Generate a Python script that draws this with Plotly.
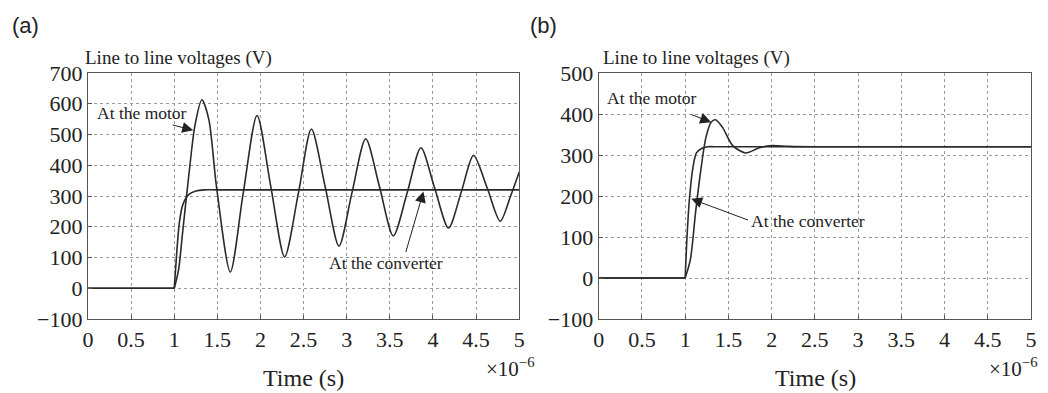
import plotly.graph_objects as go
from plotly.subplots import make_subplots

# ---- data (time in units of 1e-6 s, voltage in V) ----
a_motor_t = [0, 1.0, 1.05, 1.10, 1.17, 1.24, 1.32, 1.40, 1.49, 1.65, 1.80, 1.96, 2.12, 2.28, 2.44,
             2.59, 2.75, 2.91, 3.06, 3.22, 3.38, 3.54, 3.70, 3.86, 4.02, 4.18, 4.33, 4.47,
             4.63, 4.78, 4.90, 5.0]
a_motor_v = [0, 0, 60, 190, 370, 530, 613, 550, 330, 53, 310, 562, 330, 102, 310,
             518, 330, 137, 310, 486, 330, 170, 310, 457, 325, 196, 315, 432,
             325, 218, 300, 378]
a_conv_t = [0, 1.0, 1.03, 1.06, 1.10, 1.17, 1.25, 1.35, 1.5, 5.0]
a_conv_v = [0, 0, 120, 215, 272, 305, 316, 320, 320, 320]

b_motor_t = [0, 1.0, 1.06, 1.12, 1.18, 1.24, 1.30, 1.35, 1.43, 1.55, 1.70, 1.85, 2.0, 2.2, 2.5, 5.0]
b_motor_v = [0, 0, 45, 160, 262, 343, 380, 386, 368, 323, 305, 317, 323, 321, 320, 320]
b_conv_t = [0, 1.0, 1.02, 1.05, 1.09, 1.13, 1.19, 1.26, 1.4, 5.0]
b_conv_v = [0, 0, 95, 195, 270, 305, 316, 320, 320, 320]

x_ticks = [0, 0.5, 1, 1.5, 2, 2.5, 3, 3.5, 4, 4.5, 5]
x_tick_text = ["0", "0.5", "1", "1.5", "2", "2.5", "3", "3.5", "4", "4.5", "5"]
a_y_ticks = [-100, 0, 100, 200, 300, 400, 500, 600, 700]
b_y_ticks = [-100, 0, 100, 200, 300, 400, 500]

SERIF = "Liberation Serif, Times New Roman, serif"
LINE = "#2a2a2a"

fig = make_subplots(rows=1, cols=2, horizontal_spacing=0.0842)

def add(t, v, col):
    # flat part before the switching instant (straight), then the transient (smoothed)
    fig.add_trace(go.Scatter(x=t[:2], y=v[:2], mode="lines",
                             line=dict(color=LINE, width=1.6),
                             showlegend=False, hoverinfo="skip"), row=1, col=col)
    fig.add_trace(go.Scatter(x=t[1:], y=v[1:], mode="lines",
                             line=dict(color=LINE, width=1.6, shape="spline", smoothing=0.8),
                             showlegend=False, hoverinfo="skip"), row=1, col=col)

add(a_conv_t, a_conv_v, 1)
add(a_motor_t, a_motor_v, 1)
add(b_conv_t, b_conv_v, 2)
add(b_motor_t, b_motor_v, 2)

axis_common = dict(showline=True, mirror=True, linecolor="#555", linewidth=1.2,
                   showgrid=True, gridcolor="#9a9a9a", griddash="dot", gridwidth=1,
                   ticks="inside", ticklen=4, tickcolor="#555", zeroline=False,
                   tickfont=dict(family=SERIF, size=22, color="#222"))

fig.update_xaxes(range=[0, 5], tickvals=x_ticks, ticktext=x_tick_text, **axis_common)
fig.update_xaxes(domain=[0, 0.4573], row=1, col=1)
fig.update_xaxes(domain=[0.5416, 1.0], row=1, col=2)
fig.update_yaxes(range=[-100, 700], tickvals=a_y_ticks, row=1, col=1, **axis_common)
fig.update_yaxes(range=[-100, 500], tickvals=b_y_ticks, row=1, col=2, **axis_common)

ann = []
def txt(x, y, s, size, xref="paper", yref="paper", xanchor="center", family=SERIF, **kw):
    ann.append(dict(x=x, y=y, xref=xref, yref=yref, text=s, showarrow=False,
                    xanchor=xanchor, yanchor="middle",
                    font=dict(family=family, size=size, color="#222"), **kw))

def arrow(xr, yr, tx, ty, hx, hy):
    ann.append(dict(x=hx, y=hy, ax=tx, ay=ty, xref=xr, yref=yr, axref=xr, ayref=yr,
                    text="", showarrow=True, arrowhead=2, arrowsize=2.2, arrowwidth=1,
                    arrowcolor="#222"))

# panel labels
txt(-0.0822, 1.195, "(a)", 22, xanchor="left", family="Liberation Sans, Arial, sans-serif")
txt(0.4668, 1.195, "(b)", 22, xanchor="left", family="Liberation Sans, Arial, sans-serif")
# y titles
txt(-0.0053, 1.061, "Line to line voltages (V)", 19, xanchor="left")
txt(0.5437, 1.061, "Line to line voltages (V)", 19, xanchor="left")
# x titles
txt(0.229, -0.24, "Time (s)", 24)
txt(0.772, -0.24, "Time (s)", 24)
# exponent
txt(0.475, -0.198, "×10<sup>−6</sup>", 21, xanchor="right")
txt(1.0, -0.198, "×10<sup>−6</sup>", 21, xanchor="right", xshift=8)

# in-plot labels
txt(0.622, 569, "At the motor", 17.5, xref="x", yref="y")
arrow("x", "y", 0.964, 532, 1.22, 514)
txt(3.46, 82, "At the converter", 17.5, xref="x", yref="y")
arrow("x", "y", 3.68, 113, 3.89, 315)
txt(0.611, 438, "At the motor", 17.5, xref="x2", yref="y2")
arrow("x2", "y2", 1.054, 400, 1.30, 380)
txt(2.424, 140, "At the converter", 17.5, xref="x2", yref="y2")
arrow("x2", "y2", 1.744, 140, 1.07, 193)

# the page adds an 8 px body margin, so the figure is 8 px smaller and shifted
fig.update_layout(width=1040, height=385, margin=dict(l=80, r=11, t=65, b=74),
                  paper_bgcolor="white", plot_bgcolor="white", annotations=ann)

fig.write_html("out.html")
